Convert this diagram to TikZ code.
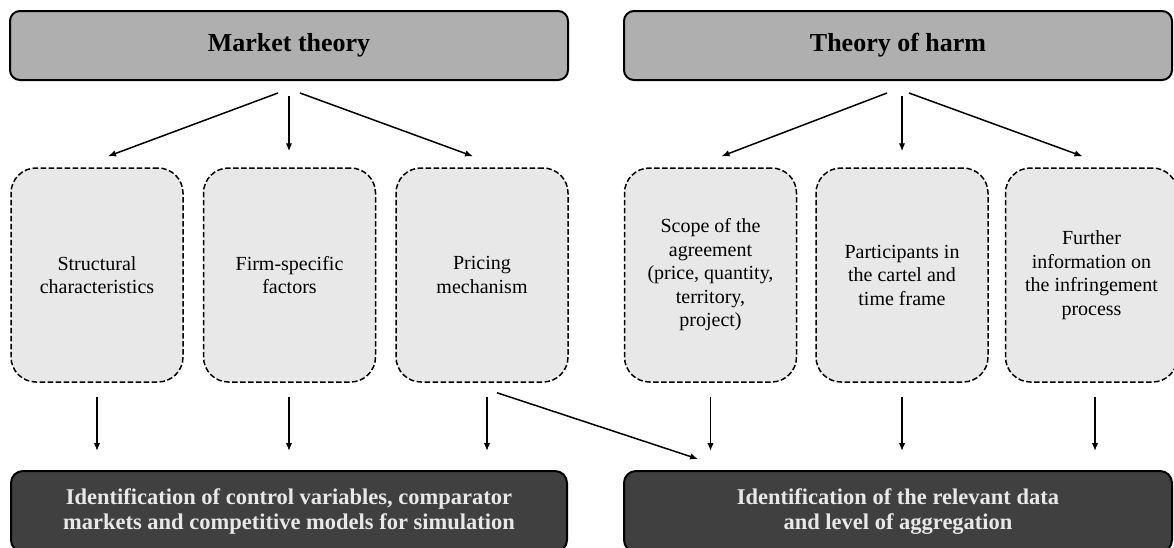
\documentclass[tikz,border=0pt]{standalone}
\usepackage{fontspec}
\setmainfont{Liberation Serif}
\usetikzlibrary{arrows.meta,calc}
\definecolor{topgray}{RGB}{175,175,175}
\definecolor{midgray}{RGB}{232,232,232}
\definecolor{botgray}{RGB}{64,64,64}
\definecolor{bottext}{RGB}{232,232,232}
\begin{document}
\begin{tikzpicture}[x=1pt,y=-1pt,
  topbox/.style={draw=black, line width=2pt, fill=topgray, rounded corners=10pt,
    minimum height=69pt, inner sep=0pt, font=\fontsize{26}{30}\selectfont\bfseries},
  midbox/.style={draw=black, line width=1.5pt, dash pattern=on 5.5pt off 2.5pt,
    fill=midgray, rounded corners=25pt, minimum width=172pt, minimum height=214pt,
    inner sep=0pt, align=center, font=\fontsize{20}{23.5}\selectfont},
  botbox/.style={draw=black, line width=2pt, fill=botgray, rounded corners=12pt,
    minimum height=81pt, inner sep=0pt, align=center, text=bottext,
    font=\fontsize{22.5}{25}\selectfont\bfseries},
  arr/.style={-{Latex[length=8pt,width=6.5pt]}, line width=1.5pt}
]
\useasboundingbox (0,0) rectangle (1174,547);
\clip (0,0) rectangle (1174,547);

% top boxes
\node[topbox, minimum width=558pt] (mt) at (289,45.5) {Market theory};
\node[topbox, minimum width=548pt] (th) at (898,45.5) {Theory of harm};

% middle dashed boxes
\node[midbox] (s1) at (97,275) {Structural\\characteristics};
\node[midbox] (s2) at (289.5,275) {Firm-specific\\factors};
\node[midbox] (s3) at (482,275) {Pricing\\mechanism};
\node[midbox] (s4) at (710.5,275) {Scope of the\\agreement\\(price, quantity,\\territory,\\project)};
\node[midbox] (s5) at (902,275) {Participants in\\the cartel and\\time frame};
\node[midbox] (s6) at (1091.5,275) {Further\\information on\\the infringement\\process};

% bottom boxes
\node[botbox, minimum width=556pt] (b1) at (289,511.5)
  {Identification of control variables, comparator\\markets and competitive models for simulation};
\node[botbox, minimum width=548pt] (b2) at (898,511.5)
  {Identification of the relevant data\\and level of aggregation};

% arrows from top boxes
\draw[arr] ([xshift=-11pt,yshift=-12pt]mt.south) -- ([xshift=11pt,yshift=11pt]s1.north);
\draw[arr] ([yshift=-15pt]mt.south) -- ([xshift=-0.5pt,yshift=16pt]s2.north);
\draw[arr] ([xshift=11pt,yshift=-12pt]mt.south) -- ([xshift=-9pt,yshift=11pt]s3.north);
\draw[arr] ([xshift=-11pt,yshift=-12pt]th.south) -- ([xshift=11pt,yshift=11pt]s4.north);
\draw[arr] ([xshift=4pt,yshift=-15pt]th.south) -- ([yshift=16pt]s5.north);
\draw[arr] ([xshift=11pt,yshift=-12pt]th.south) -- ([xshift=-9pt,yshift=11pt]s6.north);

% arrows to bottom boxes
\draw[arr] ([yshift=-14pt]s1.south) -- ($(s1.south |- b1.north)+(0,-19)$);
\draw[arr] ([xshift=-0.5pt,yshift=-14pt]s2.south) -- ($([xshift=-0.5pt]s2.south |- b1.north)+(0,-19)$);
\draw[arr] ([xshift=5pt,yshift=-14pt]s3.south) -- ($([xshift=5pt]s3.south |- b1.north)+(0,-19)$);
\draw[arr] ([yshift=-14pt]s4.south) -- ($(s4.south |- b2.north)+(0,-19)$);
\draw[arr] ([yshift=-14pt]s5.south) -- ($(s5.south |- b2.north)+(0,-19)$);
\draw[arr] ([xshift=3.5pt,yshift=-14pt]s6.south) -- ($([xshift=3.5pt]s6.south |- b2.north)+(0,-19)$);
\draw[arr] ([xshift=15pt,yshift=-10pt]s3.south) -- ([xshift=-200pt,yshift=11pt]b2.north);
\end{tikzpicture}
\end{document}
